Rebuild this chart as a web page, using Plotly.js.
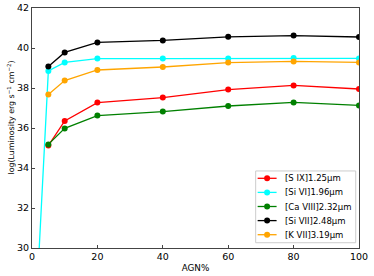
<!DOCTYPE html>
<html><head><meta charset="utf-8">
<script src="https://cdn.plot.ly/plotly-3.0.1.min.js"></script>
<style>html,body{margin:0;padding:0;background:#fff}#chart{width:374px;height:276px}</style>
</head><body><div id="chart"></div>
<script>
const agn = [5, 10, 20, 40, 60, 80, 100];
const agnSiVI = [0, 5, 10, 20, 40, 60, 80, 100];
const sIX = [35.12, 36.35, 37.27, 37.52, 37.92, 38.13, 37.95];
const siVI = [23.0, 38.85, 39.28, 39.47, 39.47, 39.48, 39.5, 39.48];
const caVIII = [35.18, 35.98, 36.62, 36.82, 37.1, 37.28, 37.13];
const siVII = [39.07, 39.78, 40.28, 40.38, 40.56, 40.62, 40.55];
const kVII = [37.68, 38.37, 38.9, 39.05, 39.27, 39.33, 39.28];
const names = ['[S IX]1.25μm', '[Si VI]1.96μm', '[Ca VIII]2.32μm', '[Si VII]2.48μm', '[K VII]3.19μm'];
const xTicks = [0, 20, 40, 60, 80, 100];
const yTicks = [30, 32, 34, 36, 38, 40, 42];
const yTitle = 'log(Luminosity erg s<sup>−1</sup> cm<sup>−2</sup>)';

const colors = ['#ff0000', '#00ffff', '#008000', '#000000', '#ffa500'];
const xs = [agn, agnSiVI, agn, agn, agn];
const ys = [sIX, siVI, caVIII, siVII, kVII];
const traces = ys.map((y, i) => ({
  x: xs[i], y: y, name: names[i], type: 'scatter', mode: 'lines+markers',
  line: {color: colors[i], width: 1.3},
  marker: {color: colors[i], size: 6},
  showlegend: false
}));

// Compact legend drawn in paper coordinates (plot area: 327 x 240 px)
const W = 327, H = 240;
const box = {x0: 0.684, x1: 0.99, y0: 0.022, y1: 0.321};
const rowTop = 0.2904, rowStep = 14.1 / H;
const shapes = [{type: 'rect', xref: 'paper', yref: 'paper', x0: box.x0, x1: box.x1, y0: box.y0, y1: box.y1,
  line: {color: '#cccccc', width: 1}, fillcolor: 'rgba(255,255,255,0.85)', layer: 'above'}];
const annotations = [];
const mx = 0.719, rx = 3 / W, ry = 3 / H;
names.forEach((n, i) => {
  const yy = rowTop - i * rowStep;
  shapes.push({type: 'line', xref: 'paper', yref: 'paper', x0: 0.690, x1: 0.748, y0: yy, y1: yy,
    line: {color: colors[i], width: 1.3}, layer: 'above'});
  shapes.push({type: 'circle', xref: 'paper', yref: 'paper', x0: mx - rx, x1: mx + rx, y0: yy - ry, y1: yy + ry,
    line: {color: colors[i], width: 0}, fillcolor: colors[i], layer: 'above'});
  annotations.push({xref: 'paper', yref: 'paper', x: 0.7685, y: yy, xanchor: 'left', yanchor: 'middle',
    text: n, showarrow: false, font: {family: 'DejaVu Sans', size: 8.5, color: '#000'}});
});
// y-axis title
annotations.push({xref: 'paper', yref: 'paper', x: -21.5 / W, y: 130 / H, xanchor: 'center', yanchor: 'middle',
  textangle: -90, text: yTitle, showarrow: false, font: {family: 'DejaVu Sans', size: 7.9, color: '#000'}});

const axisCommon = {
  showgrid: false, zeroline: false, showline: true, linecolor: '#444', linewidth: 1,
  mirror: true, ticks: 'inside', ticklen: 3, tickcolor: '#444',
  tickfont: {family: 'DejaVu Sans', size: 9.5, color: '#000'}
};
const layout = {
  width: 374, height: 276,
  margin: {l: 32, r: 15, t: 8, b: 28},
  paper_bgcolor: '#fff', plot_bgcolor: '#fff',
  font: {family: 'DejaVu Sans', color: '#000'},
  xaxis: Object.assign({}, axisCommon, {
    range: [0, 100], tickvals: xTicks, ticktext: xTicks.map(String),
    title: {text: 'AGN%', font: {size: 8.8}, standoff: 3}
  }),
  yaxis: Object.assign({}, axisCommon, {
    range: [30, 42], tickvals: yTicks, ticktext: yTicks.map(String)
  }),
  shapes: shapes,
  annotations: annotations,
  showlegend: false
};
Plotly.newPlot('chart', traces, layout, {displayModeBar: false, staticPlot: true});
</script>
</body></html>
